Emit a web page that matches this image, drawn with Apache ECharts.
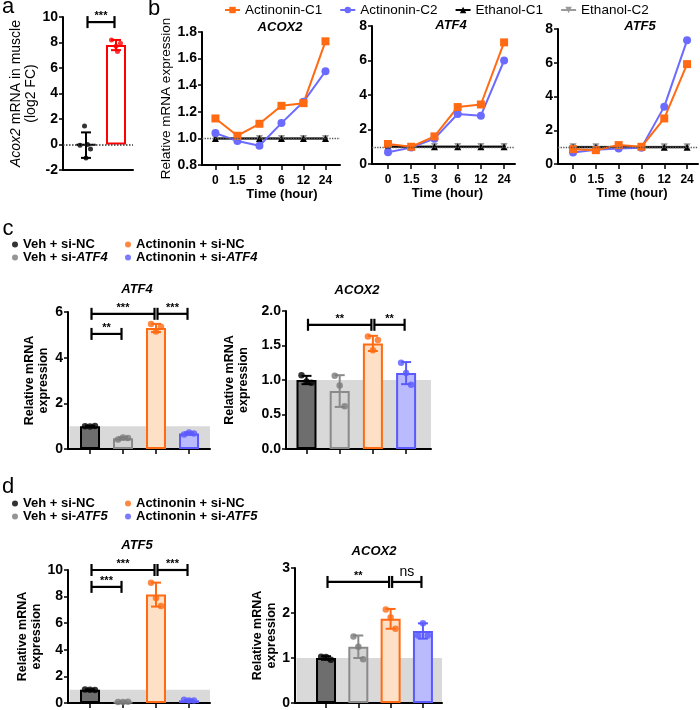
<!DOCTYPE html>
<html><head><meta charset="utf-8">
<script src="https://cdn.jsdelivr.net/npm/echarts@6/dist/echarts.min.js"></script>
<style>html,body{margin:0;padding:0;background:#fff}#c{width:700px;height:710px}</style>
</head><body><div id="c"></div>
<script>
// ---------------- DATA ----------------
// Panel a
const aGroups = ['Control', 'Actinonin'];
const aMeans = [-0.05, 7.8];
const aSD = [1.0, 0.4];
const aPoints = [[1.45, -0.05, 0.0, -0.35, -1.05], [8.2, 7.95, 7.7, 7.3]];
const aSig = [[1, 2, 9.6, '***']];

// Panel b
const timeLabels = ['0', '1.5', '3', '6', '12', '24'];
const bSeriesNames = ['Actinonin-C1', 'Actinonin-C2', 'Ethanol-C1', 'Ethanol-C2'];
const bGenes = ['ACOX2', 'ATF4', 'ATF5'];
const acox2C1 = [1.15, 1.02, 1.11, 1.245, 1.265, 1.73];
const acox2C2 = [1.04, 0.98, 0.945, 1.115, 1.275, 1.505];
const acox2E1 = [1, 1, 1, 1, 1, 1];
const acox2E2 = [1, 1, 1, 1, 1, 1];
const atf4C1 = [1.16, 1.0, 1.6, 3.3, 3.45, 7.05];
const atf4C2 = [0.68, 0.95, 1.47, 2.9, 2.8, 6.0];
const atf4E1 = [1, 1, 1, 1, 1, 1];
const atf4E2 = [1.02, 1.02, 1.02, 1.02, 1.02, 1.02];
const atf5C1 = [0.88, 0.82, 1.12, 1.02, 2.7, 5.92];
const atf5C2 = [0.68, 0.85, 0.92, 0.97, 3.4, 7.33];
const atf5E1 = [1, 1, 1, 1, 1, 1];
const atf5E2 = [1.02, 1.02, 1.02, 1.02, 1.02, 1.02];

// Panel c
const cGroups = ['Veh + si-NC', 'Veh + si-ATF4', 'Actinonin + si-NC', 'Actinonin + si-ATF4'];
const cAtf4Means = [1.0, 0.47, 5.3, 0.68];
const cAtf4SD = [0.02, 0.05, 0.18, 0.05];
const cAtf4Pts = [[1.0, 0.99, 1.01], [0.42, 0.5, 0.48], [5.47, 5.15, 5.35], [0.64, 0.72, 0.68]];
const cAtf4Sig = [[1, 3, 5.92, '***'], [3, 4, 5.92, '***'], [1, 2, 5.04, '**']];
const cAcox2Means = [1.0, 0.84, 1.53, 1.1];
const cAcox2SD = [0.06, 0.23, 0.11, 0.16];
const cAcox2Pts = [[1.07, 0.98, 0.96], [1.06, 0.92, 0.62], [1.63, 1.43, 1.58], [1.25, 1.1, 0.93]];
const cAcox2Sig = [[1, 3, 1.8, '**'], [3, 4, 1.8, '**']];

// Panel d
const dGroups = ['Veh + si-NC', 'Veh + si-ATF5', 'Actinonin + si-NC', 'Actinonin + si-ATF5'];
const dAtf5Means = [1.0, 0.08, 8.15, 0.2];
const dAtf5SD = [0.03, 0.02, 0.9, 0.04];
const dAtf5Pts = [[1.02, 1.0, 0.98], [0.08, 0.07, 0.09], [9.05, 7.9, 7.3], [0.24, 0.19, 0.18]];
const dAtf5Sig = [[1, 3, 10, '***'], [3, 4, 10, '***'], [1, 2, 8.73, '***']];
const dAcox2Means = [1.0, 1.25, 1.87, 1.6];
const dAcox2SD = [0.04, 0.25, 0.22, 0.17];
const dAcox2Pts = [[1.03, 1.02, 0.96], [1.48, 1.25, 0.97], [2.08, 1.9, 1.65], [1.5, 1.77, 1.5]];
const dAcox2Sig = [[1, 3, 2.69, '**'], [3, 4, 2.69, 'ns']];

// ---------------- STYLE ----------------
const FONT = 'Liberation Sans';
const FILL = ['#6e6e6e', '#d4d4d4', '#fde0c6', '#babaff'];
const STROKE = ['#000000', '#8a8a8a', '#ff6a13', '#5a5aff'];
const PT = ['#000000', '#7a7a7a', '#ff6a13', '#5a5aff'];
const JIT3 = [-0.15, 0, 0.15];

const chart = echarts.init(document.getElementById('c'), null, {width: 700, height: 710});

const grids = [
  {left: 63, top: 17, width: 70, height: 153},
  {left: 202, top: 32, width: 138, height: 133},
  {left: 372, top: 26, width: 143, height: 138},
  {left: 558, top: 29, width: 140, height: 135},
  {left: 68, top: 312, width: 142, height: 137},
  {left: 286, top: 311, width: 145, height: 138},
  {left: 68, top: 570, width: 142, height: 134},
  {left: 295, top: 568, width: 147, height: 136}
];

function yAx(gi, min, max, interval, dec, name, nameGap, nameStyle) {
  return {
    type: 'value', gridIndex: gi, min: min, max: max, interval: interval,
    name: name, nameLocation: 'middle', nameGap: nameGap, nameTextStyle: nameStyle,
    axisLine: {show: true, onZero: false, lineStyle: {color: '#000', width: 2}},
    axisTick: {show: true, length: 4, lineStyle: {color: '#000', width: 1.5}},
    axisLabel: {margin: 5, fontSize: 14, fontWeight: 'bold', color: '#000', fontFamily: FONT,
      formatter: v => Number(v).toFixed(dec)},
    splitLine: {show: false}
  };
}
function xAx(gi, min, max, ticks, fmt, name, pad) {
  return {
    type: 'value', gridIndex: gi, min: min, max: max,
    name: name || '', nameLocation: 'middle', nameGap: 23,
    nameTextStyle: {fontSize: 13, fontWeight: 'bold', color: '#000', fontFamily: FONT, padding: [0, 0, 0, pad || 0]},
    axisLine: {show: true, onZero: false, lineStyle: {color: '#000', width: 2}},
    axisTick: {show: ticks.length > 0, length: 5, customValues: ticks, lineStyle: {color: '#000', width: 1.5}},
    axisLabel: {show: !!fmt, customValues: ticks, margin: 10, fontSize: 12, fontWeight: 'bold', color: '#000',
      fontFamily: FONT, formatter: fmt || (() => '')},
    splitLine: {show: false}
  };
}

const nameBold = {fontSize: 12.5, fontWeight: 'bold', color: '#000', fontFamily: FONT, lineHeight: 14};
const xAxes = [
  xAx(0, 0.233, 2.567, [], null),
  xAx(1, -0.61, 5.66, [0, 1, 2, 3, 4, 5], v => timeLabels[Math.round(v)], 'Time (hour)', 22),
  xAx(2, -0.69, 5.47, [0, 1, 2, 3, 4, 5], v => timeLabels[Math.round(v)], 'Time (hour)', 8),
  xAx(3, -0.66, 5.48, [0, 1, 2, 3, 4, 5], v => timeLabels[Math.round(v)], 'Time (hour)', 8),
  xAx(4, 0.333, 4.636, [1, 2, 3, 4], null),
  xAx(5, 0.383, 4.75, [1, 2, 3, 4], null),
  xAx(6, 0.333, 4.636, [1, 2, 3, 4], null),
  xAx(7, 0.04, 4.59, [1, 2, 3, 4], null)
];
const yAxes = [
  yAx(0, -2, 10, 2, 0, '{i|Acox2} mRNA in muscle\n(log2 FC)', 11.5,
    {fontSize: 14, color: '#000', fontFamily: FONT, lineHeight: 15,
     rich: {i: {fontStyle: 'italic', fontSize: 14, color: '#000', fontFamily: FONT, lineHeight: 15}}}),
  yAx(1, 0.8, 1.8, 0.2, 1, 'Relative mRNA expression', 27, {fontSize: 13.5, color: '#000', fontFamily: FONT, lineHeight: 14}),
  yAx(2, 0, 8, 2, 0, '', 0, {}),
  yAx(3, 0, 8, 2, 0, '', 0, {}),
  yAx(4, 0, 6, 2, 0, 'Relative mRNA\nexpression', 17.5, nameBold),
  yAx(5, 0, 2, 0.5, 1, 'Relative mRNA\nexpression', 35, nameBold),
  yAx(6, 0, 10, 2, 0, 'Relative mRNA\nexpression', 16, nameBold),
  yAx(7, 0, 3, 1, 0, 'Relative mRNA\nexpression', 8, nameBold)
];

const series = [];

function errorBarSeries(gi, xs, means, sds, colors, cap) {
  return {
    type: 'custom', xAxisIndex: gi, yAxisIndex: gi, z: 3, silent: true,
    data: xs.map((x, i) => [x, means[i] - sds[i], means[i] + sds[i]]),
    renderItem: (params, api) => {
      const x = api.value(0);
      const lo = api.coord([x, api.value(1)]), hi = api.coord([x, api.value(2)]);
      const c = colors[params.dataIndex];
      const st = {stroke: c, lineWidth: 2};
      return {type: 'group', children: [
        {type: 'line', shape: {x1: lo[0], y1: lo[1], x2: hi[0], y2: hi[1]}, style: st},
        {type: 'line', shape: {x1: lo[0] - cap, y1: lo[1], x2: lo[0] + cap, y2: lo[1]}, style: st},
        {type: 'line', shape: {x1: hi[0] - cap, y1: hi[1], x2: hi[0] + cap, y2: hi[1]}, style: st}
      ]};
    }
  };
}
function bracketSeries(gi, sig) {
  return {
    type: 'custom', xAxisIndex: gi, yAxisIndex: gi, z: 5, silent: true,
    data: sig.map(s => [s[0], s[1], s[2]]),
    renderItem: (params, api) => {
      const p1 = api.coord([api.value(0), api.value(2)]), p2 = api.coord([api.value(1), api.value(2)]);
      const a = p1[0] + 1.5, b = p2[0] - 1.5, y = p1[1];
      const lab = sig[params.dataIndex][3];
      const st = {stroke: '#000', lineWidth: 2.2};
      const isNs = lab === 'ns';
      return {type: 'group', children: [
        {type: 'line', shape: {x1: a, y1: y, x2: b, y2: y}, style: st},
        {type: 'line', shape: {x1: a, y1: y - 6, x2: a, y2: y + 6}, style: st},
        {type: 'line', shape: {x1: b, y1: y - 6, x2: b, y2: y + 6}, style: st},
        {type: 'text', x: (a + b) / 2, y: isNs ? y - 10 : y - 6,
          style: {text: lab, fill: '#000', align: 'center', verticalAlign: 'middle',
            textAlign: 'center', textVerticalAlign: 'middle',
            font: isNs ? '14px "Liberation Sans"' : 'bold 11px "Liberation Sans"'}}
      ]};
    }
  };
}
function bandSeries(gi, xmin, xmax, top) {
  return {
    type: 'custom', xAxisIndex: gi, yAxisIndex: gi, z: 1, silent: true,
    data: [[xmin, xmax, 0, top]],
    renderItem: (params, api) => {
      const a = api.coord([api.value(0), api.value(3)]), b = api.coord([api.value(1), api.value(2)]);
      return {type: 'rect', shape: {x: a[0] + 1.5, y: a[1], width: b[0] - a[0] - 1.5, height: b[1] - a[1] - 1}, style: {fill: '#d9d9d9'}};
    }
  };
}

// Panel a
series.push({
  type: 'bar', xAxisIndex: 0, yAxisIndex: 0, barWidth: 20, z: 2, silent: true,
  data: aMeans.map((m, i) => ({value: [i + 1, m], itemStyle: {color: '#fff', borderColor: i === 0 ? '#000' : '#ff0000', borderWidth: 2}})),
  markLine: {silent: true, symbol: 'none', label: {show: false}, lineStyle: {type: 'dotted', color: '#333', width: 1.5}, data: [{yAxis: 0}]}
});
series.push(errorBarSeries(0, [1, 2], aMeans, aSD, ['#000', '#ff0000'], 5));
const aJit = [[-0.05, -0.2, 0.05, 0.15, 0.0], [-0.15, 0.15, 0.0, 0.05]];
aGroups.forEach((g, i) => series.push({
  type: 'scatter', name: g, xAxisIndex: 0, yAxisIndex: 0, z: 4, symbolSize: 5, silent: true,
  itemStyle: {color: i === 0 ? '#000' : '#ff0000'},
  data: aPoints[i].map((v, k) => [i + 1 + aJit[i][k], v])
}));
series.push(bracketSeries(0, aSig));

// Panel b
const bData = [
  [acox2C1, acox2C2, acox2E1, acox2E2],
  [atf4C1, atf4C2, atf4E1, atf4E2],
  [atf5C1, atf5C2, atf5E1, atf5E2]
];
const bStyle = [
  {color: '#ff6a13', symbol: 'rect', size: 8, rot: 0},
  {color: '#6b6bff', symbol: 'circle', size: 8, rot: 0},
  {color: '#000000', symbol: 'triangle', size: 7, rot: 0},
  {color: '#9a9a9a', symbol: 'triangle', size: 7, rot: 180}
];
bData.forEach((sets, p) => {
  [3, 2, 1, 0].forEach(s => {
    const st = bStyle[s];
    const ser = {
      type: 'line', name: bSeriesNames[s], xAxisIndex: p + 1, yAxisIndex: p + 1,
      symbol: st.symbol, symbolSize: st.size, symbolRotate: st.rot, showSymbol: true,
      itemStyle: {color: st.color}, lineStyle: {color: st.color, width: 2},
      data: sets[s].map((v, i) => [i, v]), z: s < 2 ? 4 : 3
    };
    if (s === 3) {
      ser.markLine = {silent: true, symbol: 'none', label: {show: false},
        lineStyle: {type: 'dotted', color: '#555', width: 1.3}, data: [{yAxis: 1}]};
    }
    series.push(ser);
  });
});

// Panels c & d
function barPanel(gi, groups, means, sds, pts, sig, xmin, xmax) {
  series.push(bandSeries(gi, xmin, xmax, 1));
  series.push({
    type: 'bar', xAxisIndex: gi, yAxisIndex: gi, barWidth: 20, z: 2, silent: true,
    data: means.map((m, i) => ({value: [i + 1, m], itemStyle: {color: FILL[i], borderColor: STROKE[i], borderWidth: 2}}))
  });
  series.push(errorBarSeries(gi, [1, 2, 3, 4], means, sds, STROKE, 5));
  groups.forEach((g, i) => series.push({
    type: 'scatter', name: g, xAxisIndex: gi, yAxisIndex: gi, z: 4, symbolSize: 6.5, silent: true,
    itemStyle: {color: PT[i]},
    data: pts[i].map((v, k) => [i + 1 + JIT3[k], v])
  }));
  series.push(bracketSeries(gi, sig));
}
barPanel(4, cGroups, cAtf4Means, cAtf4SD, cAtf4Pts, cAtf4Sig, 0.333, 4.636);
barPanel(5, cGroups, cAcox2Means, cAcox2SD, cAcox2Pts, cAcox2Sig, 0.383, 4.75);
barPanel(6, dGroups, dAtf5Means, dAtf5SD, dAtf5Pts, dAtf5Sig, 0.333, 4.636);
barPanel(7, dGroups, dAcox2Means, dAcox2SD, dAcox2Pts, dAcox2Sig, 0.04, 4.59);

// Legends
const groupLegendText = {
  fontFamily: FONT, fontSize: 13, fontWeight: 'bold', color: '#000', lineHeight: 12.5,
  rich: {i: {fontFamily: FONT, fontSize: 13, fontWeight: 'bold', fontStyle: 'italic', color: '#000', lineHeight: 12.5}}
};
const groupFmt = n => n.replace(/ATF(\d)/, '{i|ATF$1}');
function groupLegend(left, top, names) {
  return {left: left, top: top, orient: 'vertical', padding: 0, itemGap: 0, itemWidth: 6, itemHeight: 6,
    icon: 'circle', data: names, formatter: groupFmt, textStyle: groupLegendText, selectedMode: false};
}
const legends = [
  {left: 224, top: 3, padding: 0, itemWidth: 15, itemHeight: 8, itemGap: 17, data: bSeriesNames,
   textStyle: {fontFamily: FONT, fontSize: 13.5, color: '#000', lineHeight: 14}},
  groupLegend(12, 238, [cGroups[0], cGroups[1]]),
  groupLegend(125, 238, [cGroups[2], cGroups[3]]),
  groupLegend(12, 497, [dGroups[0], dGroups[1]]),
  groupLegend(125, 497, [dGroups[2], dGroups[3]])
];

// Text labels (panel letters and gene titles)
function txt(x, y, text, font) {
  return {type: 'text', x: x, y: y, silent: true,
    style: {text: text, font: font, fill: '#000', align: 'center', verticalAlign: 'middle',
      textAlign: 'center', textVerticalAlign: 'middle'}};
}
const LET = '22px "Liberation Sans"';
const GEN = 'italic bold 13px "Liberation Sans"';
const graphics = [
  txt(8, 7, 'a', LET), txt(154, 9, 'b', LET), txt(8, 229, 'c', LET), txt(8, 487, 'd', LET),
  txt(280, 27, bGenes[0], GEN), txt(451, 25, bGenes[1], GEN), txt(640, 26, bGenes[2], GEN),
  txt(137, 289, 'ATF4', GEN), txt(357, 290, 'ACOX2', GEN),
  txt(137, 545, 'ATF5', GEN), txt(374, 551, 'ACOX2', GEN)
];

chart.setOption({
  animation: false,
  backgroundColor: '#ffffff',
  textStyle: {fontFamily: FONT},
  grid: grids,
  xAxis: xAxes,
  yAxis: yAxes,
  legend: legends,
  graphic: {elements: graphics},
  series: series
});
</script>
</body></html>
